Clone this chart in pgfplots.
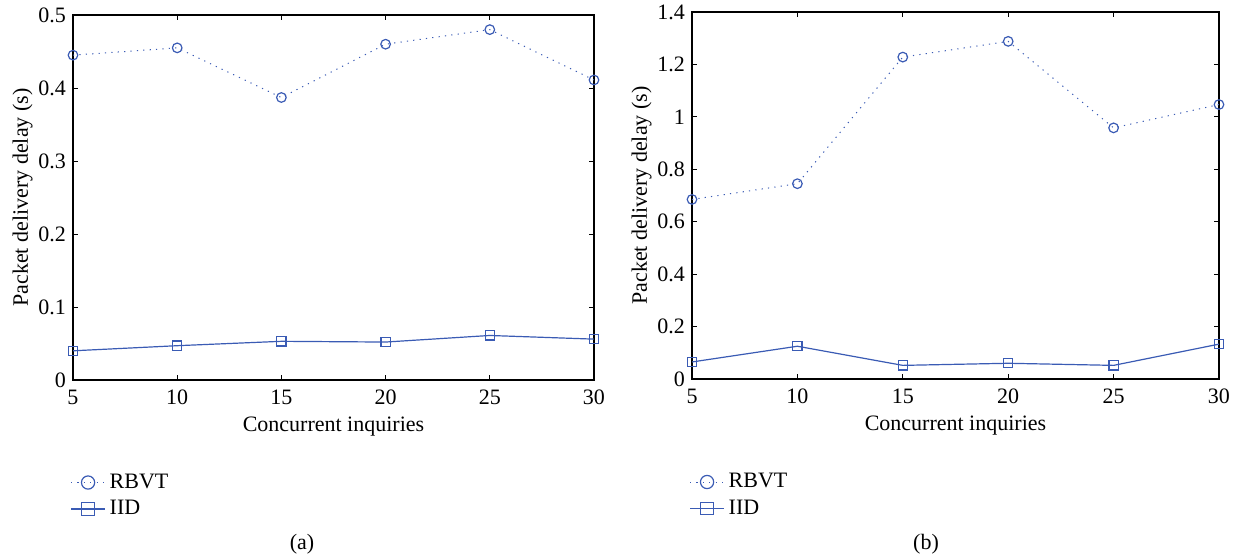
\documentclass[border=0pt]{standalone}
\usepackage{fontspec}
\setmainfont{Liberation Serif}
\usepackage{pgfplots}
\pgfplotsset{compat=1.18}
\definecolor{lineblue}{HTML}{3A5BB4}

\pgfplotsset{
  delayaxis/.style={
    scale only axis,
    anchor=south west,
    xmin=5, xmax=30, ymin=0,
    xtick={5,10,15,20,25,30},
    tick align=inside,
    major tick length=2.6pt,
    tick style={black, line width=0.5pt},
    axis line style={line width=0.6pt},
    ticklabel style={font=\fontsize{11}{12}\selectfont},
    xticklabel style={yshift=-1.5pt},
    label style={font=\fontsize{11}{12}\selectfont},
    /pgf/number format/assume math mode=true,
    yticklabel style={/pgf/number format/fixed},
    xlabel={Concurrent inquiries},
    ylabel={Packet delivery delay (s)},
    xlabel style={yshift=1pt},
    ylabel style={yshift=-4pt},
    legend style={draw=none, fill=none, at={(0,-0.245)}, anchor=north west,
      font=\fontsize{11}{12}\selectfont, row sep=0.5pt, inner sep=0pt,
      xshift=-1.5pt},
    legend cell align=left,
  },
  rbvt/.style={color=lineblue, line width=0.5pt, dash pattern=on 0.6pt off 2.6pt,
    mark=o, mark size=2.4pt, mark options={solid, line width=0.6pt},
    legend image post style={mark size=3.3pt}},
  iid/.style={color=lineblue, line width=0.6pt,
    mark=square, mark size=2.3pt, mark options={solid, line width=0.6pt},
    legend image post style={mark size=3.1pt}},
}

\begin{document}
\begin{tikzpicture}
\path[use as bounding box] (0,0) rectangle (619.5pt,279.5pt);

% panel (a)
\begin{axis}[delayaxis, at={(36.5pt,89.5pt)}, width=260.5pt, height=182.5pt,
  ymax=0.5, ytick={0,0.1,0.2,0.3,0.4,0.5}]
\addplot[rbvt] coordinates {(5,0.445) (10,0.455) (15,0.387) (20,0.460) (25,0.480) (30,0.411)};
\addplot[iid] coordinates {(5,0.040) (10,0.047) (15,0.053) (20,0.052) (25,0.061) (30,0.056)};
\legend{RBVT, IID}
\end{axis}

% panel (b)
\begin{axis}[delayaxis, at={(346pt,90pt)}, width=263.5pt, height=183.5pt,
  ymax=1.4, ytick={0,0.2,0.4,0.6,0.8,1,1.2,1.4}]
\addplot[rbvt] coordinates {(5,0.685) (10,0.745) (15,1.228) (20,1.288) (25,0.958) (30,1.047)};
\addplot[iid] coordinates {(5,0.065) (10,0.125) (15,0.052) (20,0.060) (25,0.052) (30,0.133)};
\legend{RBVT, IID}
\end{axis}

\node[font=\fontsize{11}{12}\selectfont] at (151pt,7.5pt) {(a)};
\node[font=\fontsize{11}{12}\selectfont] at (463pt,7.5pt) {(b)};
\end{tikzpicture}
\end{document}
